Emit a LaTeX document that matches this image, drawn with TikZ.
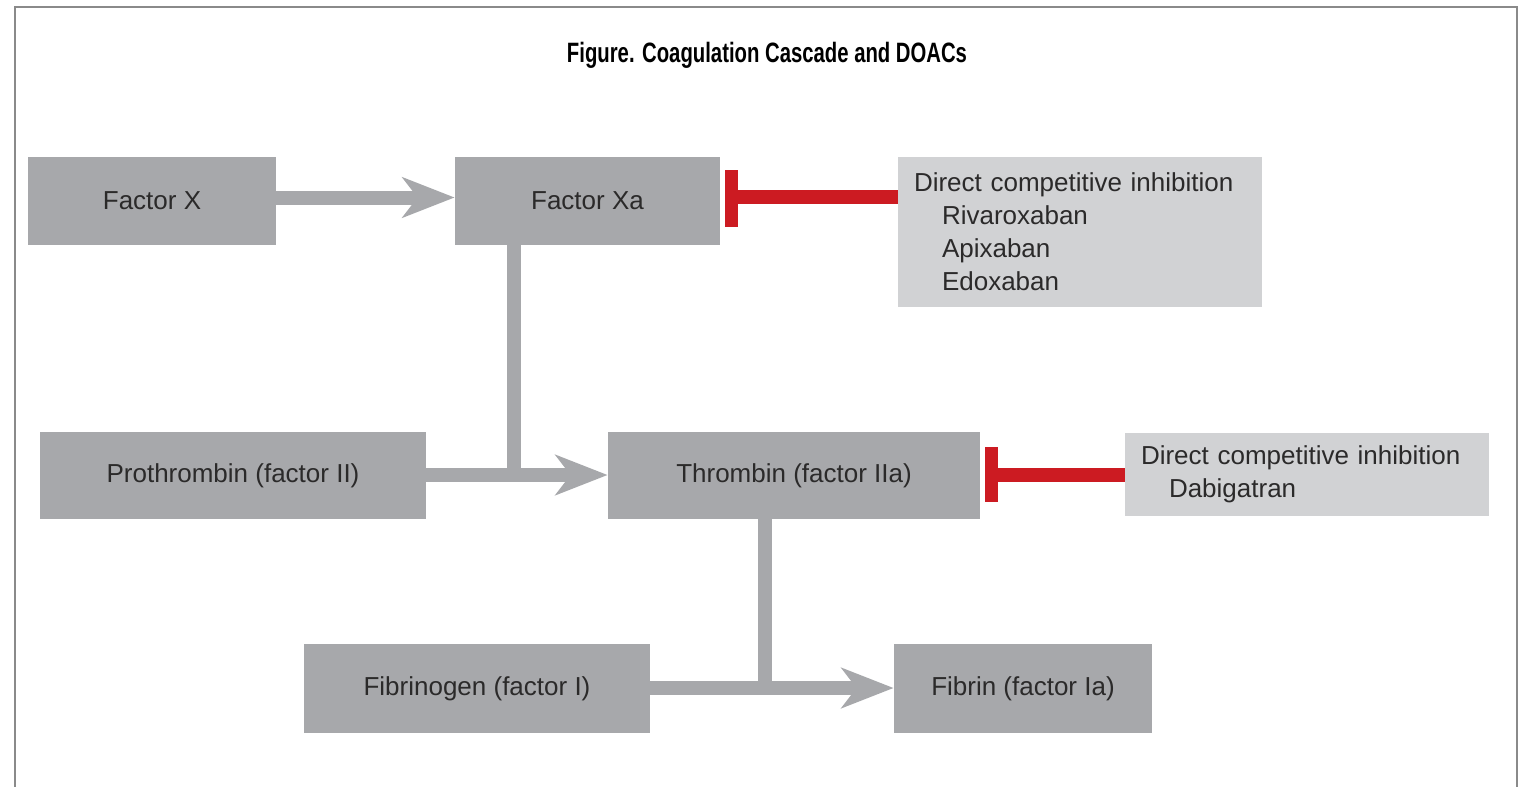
\documentclass[tikz,border=0pt]{standalone}
\usepackage{fontspec}
\setmainfont{Liberation Sans}
\newfontfamily\titlefont[FakeStretch=0.725]{Liberation Sans Bold}
\usetikzlibrary{arrows.meta}
\definecolor{boxdark}{HTML}{A7A8AB}
\definecolor{boxlight}{HTML}{D1D2D4}
\definecolor{inhred}{HTML}{CC1B22}
\definecolor{txt}{HTML}{2B2A2A}
\definecolor{framegray}{HTML}{8A8A8A}
\tikzset{
  dbox/.style={fill=boxdark, draw=none, inner sep=0pt, text=txt,
    font=\fontsize{13pt}{16.5pt}\selectfont, align=center},
  lbox/.style={fill=boxlight, draw=none, inner xsep=8pt, inner ysep=0pt, text=txt,
    font=\fontsize{13pt}{16.5pt}\selectfont, align=left},
  gline/.style={draw=boxdark, line width=7pt},
  garrow/.style={gline, -{Stealth[length=26pt, width=20pt, inset=7.5pt]}},
  rline/.style={draw=inhred, line width=7pt},
}
\newcommand{\ind}{\hspace*{14pt}}
\begin{document}
\begin{tikzpicture}[x=0.5pt, y=-0.5pt]
\useasboundingbox (0,0) rectangle (1526,787);
\fill[white] (0,0) rectangle (1526,787);
\draw[framegray, line width=1.2pt] (15,787) -- (15,7) -- (1517,7) -- (1517,787);

\node[font=\titlefont\fontsize{14pt}{16pt}\selectfont, text=black] (title) at (767,55) {Figure. Coagulation Cascade and DOACs};

\node[dbox, minimum width=124pt, minimum height=44pt] (fx) at (152,201) {Factor X};
\node[dbox, minimum width=132.5pt, minimum height=44pt] (fxa) at (587.5,201) {Factor Xa};
\node[lbox, minimum height=75pt, text width=166pt] (inh1) at (1080,232)
  {Direct competitive inhibition\\ \ind Rivaroxaban\\ \ind Apixaban\\ \ind Edoxaban};
\node[dbox, minimum width=193pt, minimum height=43.5pt] (pro) at (233,475.5) {Prothrombin (factor II)};
\node[dbox, minimum width=186pt, minimum height=43.5pt] (thr) at (794,475.5) {Thrombin (factor IIa)};
\node[lbox, minimum height=41.5pt, text width=166pt] (inh2) at (1307,474.5)
  {Direct competitive inhibition\\ \ind Dabigatran};
\node[dbox, minimum width=173pt, minimum height=44.5pt] (fbg) at (477,688.5) {Fibrinogen (factor I)};
\node[dbox, minimum width=129pt, minimum height=44.5pt] (fbn) at (1023,688.5) {Fibrin (factor Ia)};

% activation arrows
\coordinate (a1) at (0,197.5);
\draw[garrow] (fx.east |- a1) -- (fxa.west |- a1);
\coordinate (j1) at (513.5,475);
\draw[gline] (j1 |- fxa.south) -- (j1);
\draw[garrow] (pro.east |- j1) -- (thr.west |- j1);
\coordinate (j2) at (765,688);
\draw[gline] (j2 |- thr.south) -- (j2);
\draw[garrow] (fbg.east |- j2) -- (fbn.west |- j2);

% inhibition
\coordinate (b1) at (738,197);
\draw[rline] (inh1.west |- b1) -- (b1);
\fill[inhred] (724.5,170) rectangle (738,226.5);
\coordinate (b2) at (998,475);
\draw[rline] (inh2.west |- b2) -- (b2);
\fill[inhred] (984.5,446.5) rectangle (998,502);
\end{tikzpicture}
\end{document}
